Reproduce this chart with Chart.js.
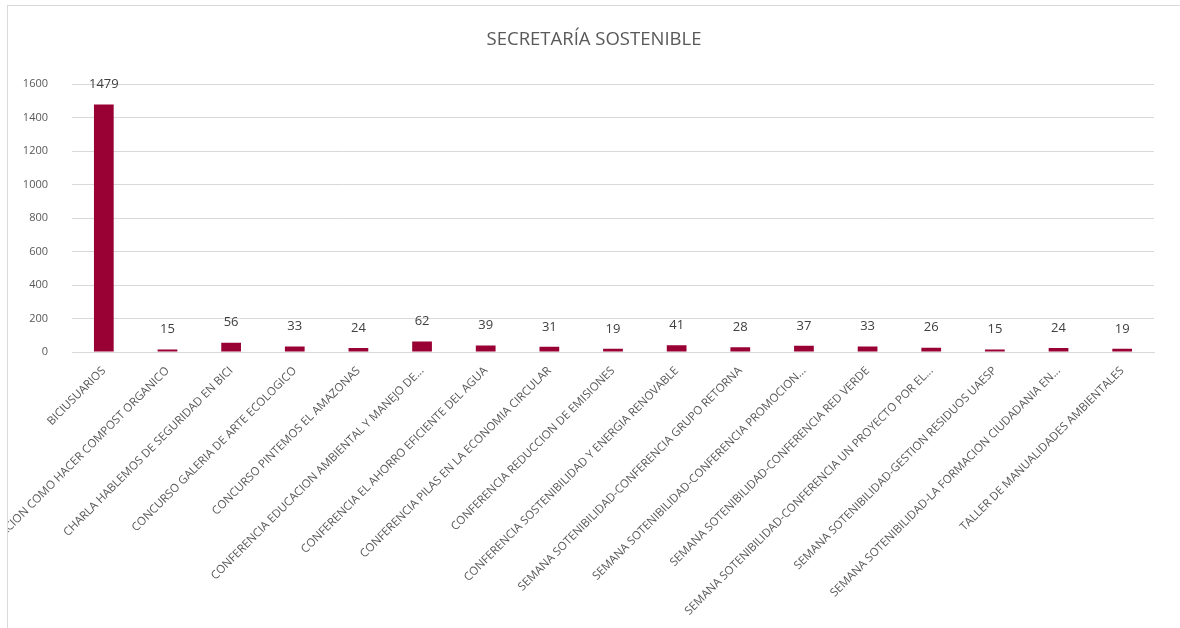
<!DOCTYPE html>
<html>
<head>
<meta charset="utf-8">
<script src="https://cdn.jsdelivr.net/npm/chart.js@4.4.1/dist/chart.umd.min.js"></script>
<style>
    html, body { margin: 0; padding: 0; background: #ffffff; overflow: hidden; }
    #frame {
        position: absolute;
        left: 7px;
        top: 5px;
        width: 1180px;
        height: 630px;
        border-left: 1px solid #d9d9d9;
        border-top: 1px solid #d9d9d9;
        overflow: hidden;
    }
    #wrap { position: absolute; left: 0; top: 0; width: 1172px; height: 622px; }
</style>
</head>
<body>
<div id="frame">
    <div id="wrap"><canvas id="sostenibleChart"></canvas></div>
</div>
<script>
const chartTitle = "SECRETARÍA SOSTENIBLE";

const eventos = [
    "BICIUSUARIOS",
    "CAPACITACION COMO HACER COMPOST ORGANICO",
    "CHARLA HABLEMOS DE SEGURIDAD EN BICI",
    "CONCURSO GALERIA DE ARTE ECOLOGICO",
    "CONCURSO PINTEMOS EL AMAZONAS",
    "CONFERENCIA EDUCACION AMBIENTAL Y MANEJO DE...",
    "CONFERENCIA EL AHORRO EFICIENTE DEL AGUA",
    "CONFERENCIA PILAS EN LA ECONOMIA CIRCULAR",
    "CONFERENCIA REDUCCION DE EMISIONES",
    "CONFERENCIA SOSTENIBILIDAD Y ENERGIA RENOVABLE",
    "SEMANA SOTENIBILIDAD-CONFERENCIA GRUPO RETORNA",
    "SEMANA SOTENIBILIDAD-CONFERENCIA PROMOCION...",
    "SEMANA SOTENIBILIDAD-CONFERENCIA RED VERDE",
    "SEMANA SOTENIBILIDAD-CONFERENCIA UN PROYECTO POR EL...",
    "SEMANA SOTENIBILIDAD-GESTION RESIDUOS UAESP",
    "SEMANA SOTENIBILIDAD-LA FORMACION CIUDADANIA EN...",
    "TALLER DE MANUALIDADES AMBIENTALES"
];

const asistentes = [1479, 15, 56, 33, 24, 62, 39, 31, 19, 41, 28, 37, 33, 26, 15, 24, 19];

const yTicks = [0, 200, 400, 600, 800, 1000, 1200, 1400, 1600];

const FONT = "'Open Sans', 'Liberation Sans', sans-serif";

// writes each bar's value just above it
const valueLabels = {
    id: "valueLabels",
    afterDatasetsDraw(chart) {
        const ctx = chart.ctx;
        const meta = chart.getDatasetMeta(0);
        ctx.save();
        ctx.font = "13px " + FONT;
        ctx.fillStyle = "#404040";
        ctx.textAlign = "center";
        ctx.textBaseline = "middle";
        meta.data.forEach((bar, i) => {
            ctx.fillText(String(chart.data.datasets[0].data[i]), bar.x, bar.y - 20);
        });
        ctx.restore();
    }
};

const ctx = document.getElementById("sostenibleChart").getContext("2d");

new Chart(ctx, {
    type: "bar",
    data: {
        labels: eventos,
        datasets: [{
            label: "Asistentes",
            data: asistentes,
            backgroundColor: "#990033",
            borderWidth: 0,
            categoryPercentage: 1,
            barPercentage: 0.31
        }]
    },
    plugins: [valueLabels],
    options: {
        responsive: true,
        maintainAspectRatio: false,
        animation: false,
        layout: { padding: 0 },
        plugins: {
            legend: { display: false },
            tooltip: { enabled: false },
            title: {
                display: true,
                text: chartTitle,
                color: "#595959",
                font: { family: FONT, size: 18.5, weight: "normal" },
                padding: { top: 23, bottom: 33 }
            }
        },
        scales: {
            x: {
                grid: { display: false },
                border: { display: true, color: "#d9d9d9", width: 1 },
                ticks: {
                    autoSkip: false,
                    minRotation: 45,
                    maxRotation: 45,
                    color: "#595959",
                    padding: 4,
                    font: { family: FONT, size: 11.5 }
                },
                afterFit(scale) { scale.height = 276; }
            },
            y: {
                min: 0,
                max: 1600,
                afterBuildTicks(scale) {
                    scale.ticks = yTicks.map(v => ({ value: v }));
                },
                grid: { color: "#d9d9d9", drawTicks: false },
                border: { display: false },
                ticks: {
                    color: "#595959",
                    padding: 24,
                    font: { family: FONT, size: 11 },
                    callback: v => String(v)
                },
                afterFit(scale) { scale.width = 64; }
            },
            // empty right-hand strip so the plot stops short of the edge
            // while the title stays centred on the whole frame
            yRight: {
                position: "right",
                min: 0,
                max: 1600,
                grid: { display: false },
                border: { display: false },
                ticks: { display: false },
                afterFit(scale) { scale.width = 26; }
            }
        }
    }
});
</script>
</body>
</html>
